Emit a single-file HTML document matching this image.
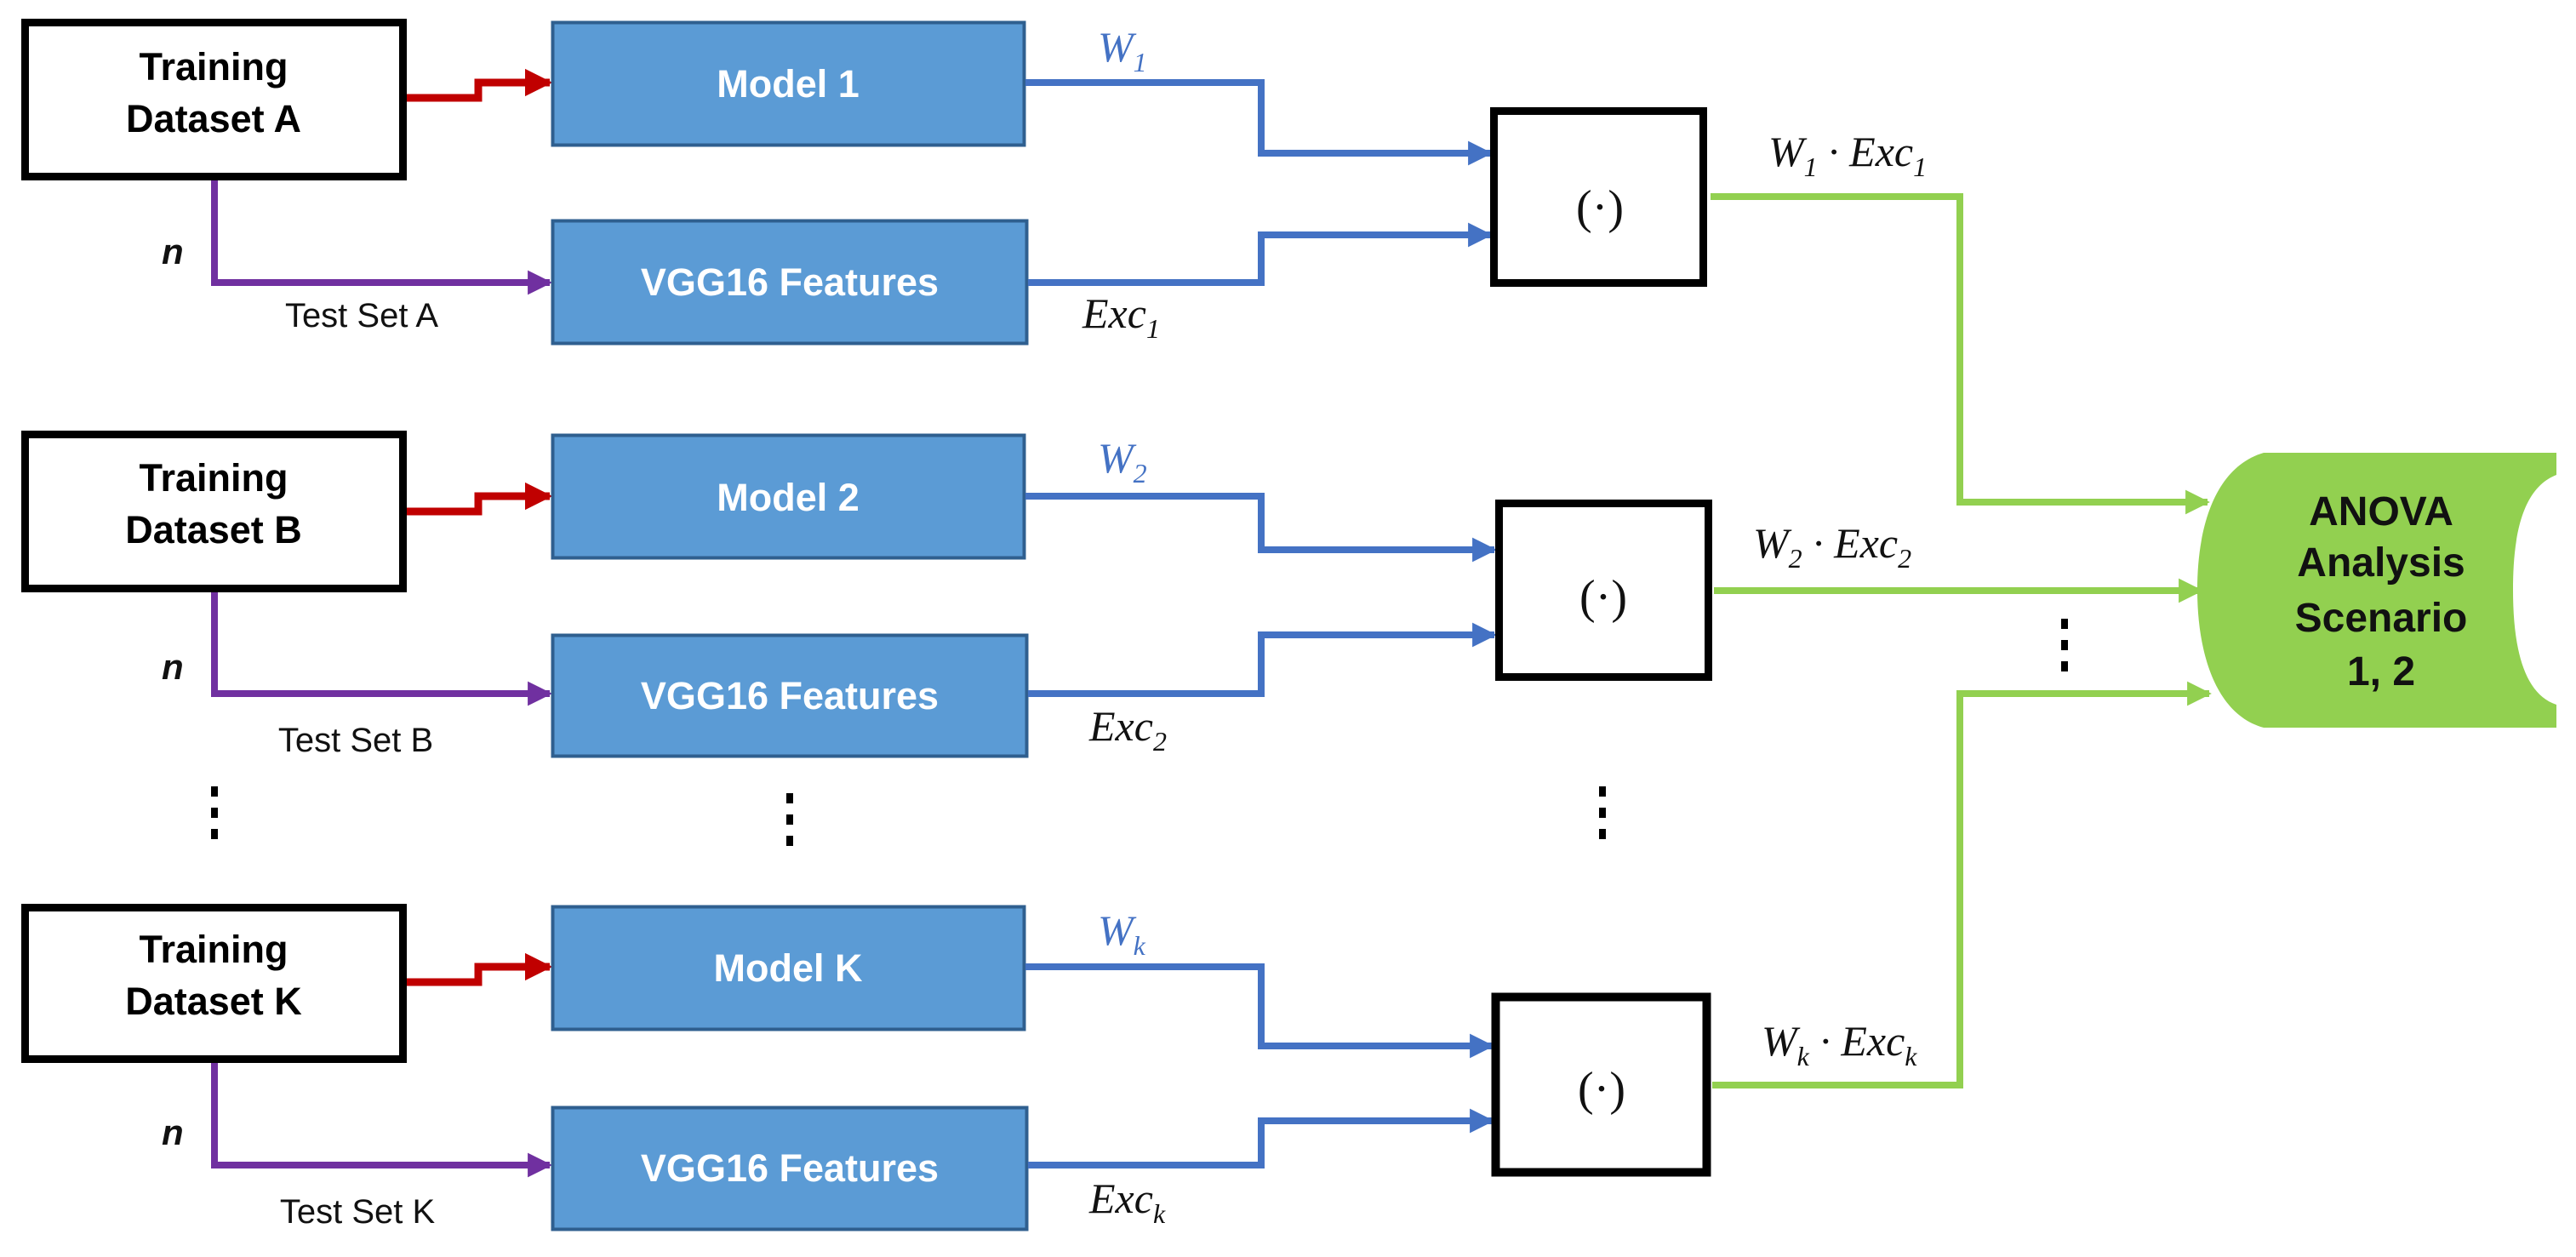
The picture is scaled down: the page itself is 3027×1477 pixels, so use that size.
<!DOCTYPE html>
<html><head><meta charset="utf-8"><style>
html,body{margin:0;padding:0;background:#fff;}
svg{display:block;}
.tb{font-family:"Liberation Sans Narrow","Liberation Sans",sans-serif;font-weight:bold;font-size:45px;fill:#000;}
.mb{font-family:"Liberation Sans Narrow","Liberation Sans",sans-serif;font-weight:bold;font-size:45px;fill:#fff;}
.ts{font-family:"Liberation Sans Narrow","Liberation Sans",sans-serif;font-size:40px;fill:#111;}
.n{font-family:"Liberation Sans Narrow","Liberation Sans",sans-serif;font-weight:bold;font-style:italic;font-size:42px;fill:#111;}
.m{font-family:"Liberation Serif",serif;font-style:italic;font-size:50px;}
.p{font-family:"Liberation Serif",serif;font-style:normal;font-size:56px;fill:#111;}
.an{font-family:"Liberation Sans Narrow","Liberation Sans",sans-serif;font-weight:bold;font-size:48px;fill:#111;}
</style></head><body>
<svg width="3027" height="1477" viewBox="0 0 3027 1477" xmlns="http://www.w3.org/2000/svg">
<defs>
<marker id="ar" viewBox="0 0 10 10" refX="9" refY="5" markerWidth="3.6" markerHeight="4.8" orient="auto" markerUnits="strokeWidth"><path d="M0,0 L10,5 L0,10 z" fill="#C00000"/></marker>
<marker id="ap" viewBox="0 0 10 10" refX="9" refY="5" markerWidth="3.6" markerHeight="5" orient="auto" markerUnits="strokeWidth"><path d="M0,0 L10,5 L0,10 z" fill="#7030A0"/></marker>
<marker id="ab" viewBox="0 0 10 10" refX="9" refY="5" markerWidth="3.6" markerHeight="5" orient="auto" markerUnits="strokeWidth"><path d="M0,0 L10,5 L0,10 z" fill="#4472C4"/></marker>
<marker id="ag" viewBox="0 0 10 10" refX="9" refY="5" markerWidth="3.6" markerHeight="5" orient="auto" markerUnits="strokeWidth"><path d="M0,0 L10,5 L0,10 z" fill="#92D050"/></marker>
</defs>

<path d="M2660,532 L3004,532 L3004,558 C2960,575 2953,640 2953,693 C2953,760 2965,815 3004,828 L3004,855 L2660,855 C2605,840 2582,770 2582,693 C2582,615 2605,548 2660,532 Z" fill="#92D050"/>
<g class="an" text-anchor="middle">
<text x="2798" y="617">ANOVA</text>
<text x="2798" y="677">Analysis</text>
<text x="2798" y="742">Scenario</text>
<text x="2798" y="805">1, 2</text>
</g>

<g fill="none" stroke="#92D050" stroke-width="8">
<polyline points="2010,231 2303,231 2303,590 2594,590" marker-end="url(#ag)"/>
<polyline points="2014,694 2586,694" marker-end="url(#ag)"/>
<polyline points="2012,1275 2303,1275 2303,815 2596,815" marker-end="url(#ag)"/>
</g>

<!-- Row A -->
<rect x="29.5" y="26.5" width="444" height="181" fill="#fff" stroke="#000" stroke-width="9"/>
<text class="tb" x="251" y="94" text-anchor="middle">Training</text>
<text class="tb" x="251" y="155" text-anchor="middle">Dataset A</text>
<polyline points="478,115 562,115 562,97 646,97" fill="none" stroke="#C00000" stroke-width="9" marker-end="url(#ar)"/>
<rect x="649.5" y="26.5" width="554" height="144" fill="#5B9BD5" stroke="#2F5F8F" stroke-width="4"/>
<text class="mb" x="926" y="114" text-anchor="middle">Model 1</text>
<polyline points="252,212 252,332 646,332" fill="none" stroke="#7030A0" stroke-width="8" marker-end="url(#ap)"/>
<text class="n" x="190" y="310">n</text>
<text class="ts" x="425" y="384" text-anchor="middle">Test Set A</text>
<rect x="649.5" y="259.5" width="557" height="144" fill="#5B9BD5" stroke="#2F5F8F" stroke-width="4"/>
<text class="mb" x="928" y="347" text-anchor="middle">VGG16 Features</text>
<g fill="none" stroke="#4472C4" stroke-width="8">
<polyline points="1205,97 1482,97 1482,180 1751,180" marker-end="url(#ab)"/>
<polyline points="1208,332 1482,332 1482,276 1751,276" marker-end="url(#ab)"/>
</g>
<text class="m" x="1290" y="72" fill="#4472C4">W<tspan font-size="32" dy="12">1</tspan></text>
<text class="m" x="1272" y="385" fill="#111">Exc<tspan font-size="32" dy="12">1</tspan></text>
<rect x="1755.5" y="130.5" width="246" height="202" fill="#fff" stroke="#000" stroke-width="9"/>
<text class="p" x="1880" y="262" text-anchor="middle">(·)</text>
<text class="m" x="2078" y="195" fill="#111">W<tspan font-size="32" dy="12">1</tspan><tspan dy="-12"> · Exc</tspan><tspan font-size="32" dy="12">1</tspan></text>

<!-- Row B -->
<rect x="29.5" y="510.5" width="444" height="181" fill="#fff" stroke="#000" stroke-width="9"/>
<text class="tb" x="251" y="577" text-anchor="middle">Training</text>
<text class="tb" x="251" y="638" text-anchor="middle">Dataset B</text>
<polyline points="478,601 562,601 562,583 646,583" fill="none" stroke="#C00000" stroke-width="9" marker-end="url(#ar)"/>
<rect x="649.5" y="511.5" width="554" height="144" fill="#5B9BD5" stroke="#2F5F8F" stroke-width="4"/>
<text class="mb" x="926" y="600" text-anchor="middle">Model 2</text>
<polyline points="252,696 252,815 646,815" fill="none" stroke="#7030A0" stroke-width="8" marker-end="url(#ap)"/>
<text class="n" x="190" y="798">n</text>
<text class="ts" x="418" y="883" text-anchor="middle">Test Set B</text>
<rect x="649.5" y="746.5" width="557" height="142" fill="#5B9BD5" stroke="#2F5F8F" stroke-width="4"/>
<text class="mb" x="928" y="833" text-anchor="middle">VGG16 Features</text>
<g fill="none" stroke="#4472C4" stroke-width="8">
<polyline points="1205,583 1482,583 1482,646 1756,646" marker-end="url(#ab)"/>
<polyline points="1208,815 1482,815 1482,746 1756,746" marker-end="url(#ab)"/>
</g>
<text class="m" x="1290" y="555" fill="#4472C4">W<tspan font-size="32" dy="12">2</tspan></text>
<text class="m" x="1280" y="870" fill="#111">Exc<tspan font-size="32" dy="12">2</tspan></text>
<rect x="1761.5" y="591.5" width="246" height="204" fill="#fff" stroke="#000" stroke-width="9"/>
<text class="p" x="1884" y="720" text-anchor="middle">(·)</text>
<text class="m" x="2060" y="655" fill="#111">W<tspan font-size="32" dy="12">2</tspan><tspan dy="-12"> · Exc</tspan><tspan font-size="32" dy="12">2</tspan></text>

<!-- Row K -->
<rect x="29.5" y="1066.5" width="444" height="178" fill="#fff" stroke="#000" stroke-width="9"/>
<text class="tb" x="251" y="1131" text-anchor="middle">Training</text>
<text class="tb" x="251" y="1192" text-anchor="middle">Dataset K</text>
<polyline points="478,1154 562,1154 562,1136 646,1136" fill="none" stroke="#C00000" stroke-width="9" marker-end="url(#ar)"/>
<rect x="649.5" y="1065.5" width="554" height="144" fill="#5B9BD5" stroke="#2F5F8F" stroke-width="4"/>
<text class="mb" x="926" y="1153" text-anchor="middle">Model K</text>
<polyline points="252,1249 252,1369 646,1369" fill="none" stroke="#7030A0" stroke-width="8" marker-end="url(#ap)"/>
<text class="n" x="190" y="1345">n</text>
<text class="ts" x="420" y="1437" text-anchor="middle">Test Set K</text>
<rect x="649.5" y="1301.5" width="557" height="143" fill="#5B9BD5" stroke="#2F5F8F" stroke-width="4"/>
<text class="mb" x="928" y="1388" text-anchor="middle">VGG16 Features</text>
<g fill="none" stroke="#4472C4" stroke-width="8">
<polyline points="1205,1136 1482,1136 1482,1229 1753,1229" marker-end="url(#ab)"/>
<polyline points="1208,1369 1482,1369 1482,1317 1753,1317" marker-end="url(#ab)"/>
</g>
<text class="m" x="1290" y="1110" fill="#4472C4">W<tspan font-size="32" dy="12">k</tspan></text>
<text class="m" x="1280" y="1425" fill="#111">Exc<tspan font-size="32" dy="12">k</tspan></text>
<rect x="1757.5" y="1171.5" width="248" height="206" fill="#fff" stroke="#000" stroke-width="10"/>
<text class="p" x="1882" y="1298" text-anchor="middle">(·)</text>
<text class="m" x="2070" y="1240" fill="#111">W<tspan font-size="32" dy="12">k</tspan><tspan dy="-12"> · Exc</tspan><tspan font-size="32" dy="12">k</tspan></text>

<g fill="#000">
<rect x="248" y="924" width="8" height="12"/><rect x="248" y="949" width="8" height="12"/><rect x="248" y="974" width="8" height="12"/>
<rect x="924" y="932" width="8" height="12"/><rect x="924" y="957" width="8" height="12"/><rect x="924" y="982" width="8" height="12"/>
<rect x="1879" y="924" width="8" height="12"/><rect x="1879" y="949" width="8" height="12"/><rect x="1879" y="974" width="8" height="12"/>
<rect x="2422" y="727" width="8" height="12"/><rect x="2422" y="752" width="8" height="12"/><rect x="2422" y="777" width="8" height="12"/>
</g>
</svg>
</body></html>
